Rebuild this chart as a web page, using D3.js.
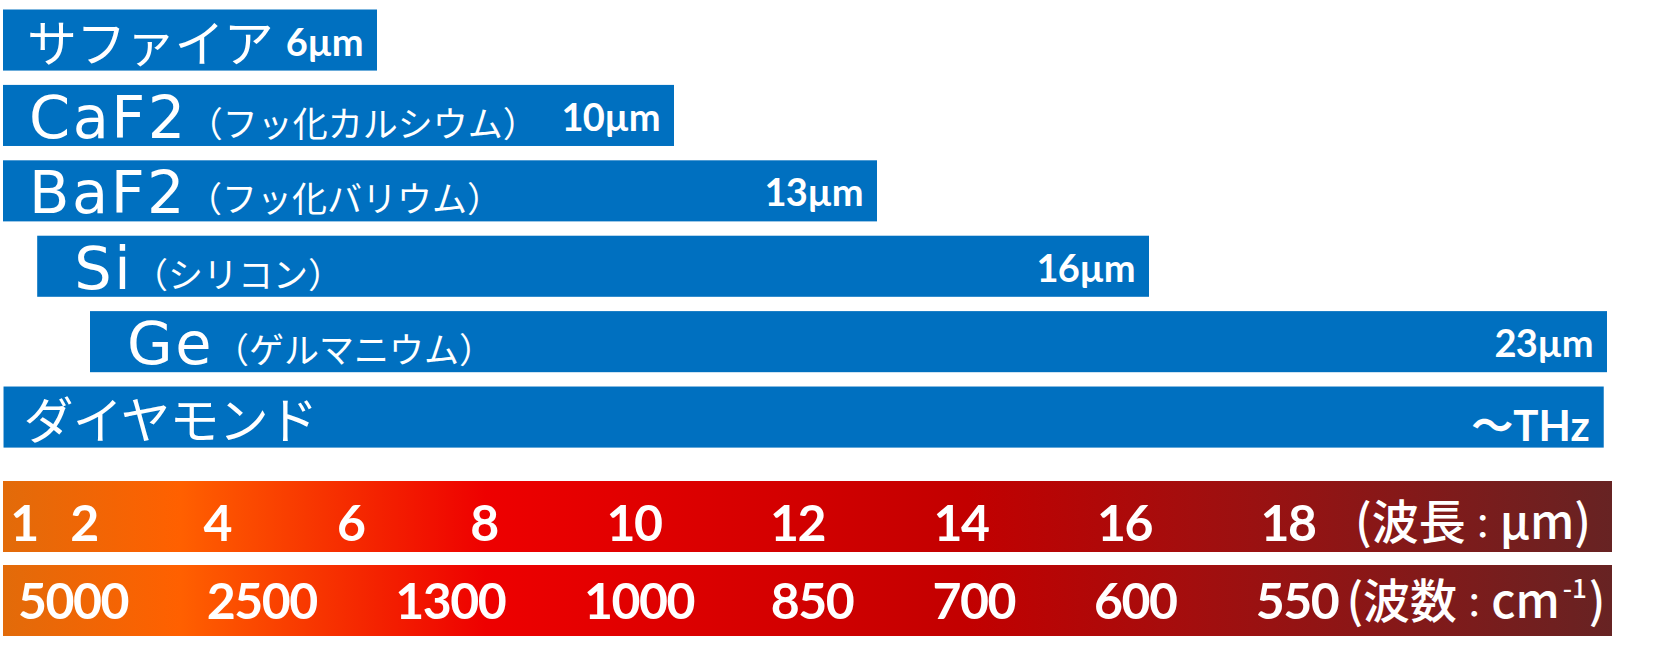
<!DOCTYPE html>
<html>
<head>
<meta charset="utf-8">
<script src="https://cdn.jsdelivr.net/npm/d3@7"></script>
<style>
  html, body { margin: 0; padding: 0; background: #ffffff; }
  svg { display: block; }
</style>
</head>
<body>
<svg id="chart" width="1654" height="648"></svg>
<script>
// ---------- data ----------
const materials      = ["サファイア", "CaF2", "BaF2", "Si", "Ge", "ダイヤモンド"];
const materialKana   = ["", "（フッ化カルシウム）", "（フッ化バリウム）", "（シリコン）", "（ゲルマニウム）", ""];
const rangeStart     = [0.15, 0.13, 0.15, 1.2, 2, 0.22];     // µm
const rangeEnd       = [6, 10, 13, 16, 23, 22.95];           // µm
const endLabels      = ["6µm", "10µm", "13µm", "16µm", "23µm", "～THz"];
const wavelengthTicks = [1, 2, 4, 6, 8, 10, 12, 14, 16, 18];
const wavenumberTicks = [5000, 2500, 1300, 1000, 850, 700, 600, 550];
const wavelengthUnit  = ["(波長", "：", "µm)"];
const wavenumberUnit  = ["(波数", "：", "cm", "-1", ")"];

// ---------- layout ----------
const svg = d3.select("#chart");
const BLUE = "#0070C0";
const LATIN = "'DejaVu Sans', 'Noto Sans', sans-serif";
const CJK = "'Noto Sans CJK JP', sans-serif";
const NUM = "Lato, 'Noto Sans CJK JP', sans-serif";
// label indent (px) from the start of each bar
const labelIndent = [24, 26, 26, 37, 37, 20];

// schematic (non-linear) wavelength scale used by the bars
const xBar = d3.scaleLinear()
  .domain([0.2, 1, 2, 6, 10, 13, 16, 23])
  .range([3, 24, 90, 377, 674, 877, 1149, 1607])
  .clamp(true);

const y = d3.scaleBand()
  .domain(materials)
  .range([9.5, 447.6])
  .paddingInner(0.19)
  .paddingOuter(0);

const rows = materials.map((m, i) => ({
  name: m, kana: materialKana[i], start: rangeStart[i], end: rangeEnd[i],
  label: endLabels[i], indent: labelIndent[i]
}));

const isLatin = s => /^[\x00-\x7F]+$/.test(s);
const mainSize = d => isLatin(d.name) ? 59 : 50;
const mainFamily = d => isLatin(d.name) ? LATIN : CJK;

// bars
const g = svg.append("g");
g.selectAll("rect.bar").data(rows).join("rect")
  .attr("class", "bar")
  .attr("x", d => xBar(d.start))
  .attr("y", d => y(d.name))
  .attr("width", d => xBar(d.end) - xBar(d.start))
  .attr("height", y.bandwidth())
  .attr("fill", BLUE);

// material labels
const lbl = g.selectAll("text.mat").data(rows).join("text")
  .attr("class", "mat")
  .attr("x", d => xBar(d.start) + d.indent)
  .attr("y", d => y(d.name) + (isLatin(d.name) ? 53 : 52))
  .attr("fill", "#fff");
lbl.append("tspan")
  .text(d => d.name)
  .attr("font-family", mainFamily)
  .attr("font-size", mainSize)
  .attr("letter-spacing", d => isLatin(d.name) ? 2.5 : -0.8);
lbl.filter(d => d.kana).append("tspan")
  .text(d => d.kana)
  .attr("font-family", CJK)
  .attr("font-size", 35)
  .attr("dy", -1);

// end-of-range labels
g.selectAll("text.end").data(rows).join("text")
  .attr("class", "end")
  .attr("x", d => xBar(d.end) - 14)
  .attr("y", d => y(d.name) + (d.label.endsWith("µm") ? 46 : 54))
  .attr("text-anchor", "end")
  .attr("font-family", NUM)
  .attr("font-weight", 700)
  .attr("font-size", d => d.label.endsWith("µm") ? 38 : 42)
  .attr("letter-spacing", d => d.label.endsWith("µm") ? -0.6 : 0)
  .attr("fill", "#fff")
  .text(d => d.label);

// ---------- spectrum bands ----------
const bandX0 = 3, bandX1 = 1612;
const defs = svg.append("defs");
const grad = defs.append("linearGradient")
  .attr("id", "spec").attr("gradientUnits", "userSpaceOnUse")
  .attr("x1", bandX0).attr("x2", bandX1).attr("y1", 0).attr("y2", 0);
[[0, "#E26B0A"], [0.11, "#FF6000"], [0.30, "#EE0000"], [0.48, "#D40000"],
 [0.60, "#C20000"], [0.74, "#A30E0E"], [1, "#672323"]]
  .forEach(([o, c]) => grad.append("stop").attr("offset", o).attr("stop-color", c));

const bands = [
  {key: "wl", y0: 481, y1: 552, base: 541},
  {key: "wn", y0: 565, y1: 636, base: 619}
];
svg.selectAll("rect.band").data(bands).join("rect")
  .attr("class", "band")
  .attr("x", bandX0).attr("y", d => d.y0)
  .attr("width", bandX1 - bandX0).attr("height", d => d.y1 - d.y0)
  .attr("fill", "url(#spec)");

// wavelength tick labels
const xWl = d3.scaleLinear().domain([1, 2, 8, 10, 18]).range([24, 84, 484, 634, 1288]);
svg.append("g").selectAll("text").data(wavelengthTicks).join("text")
  .attr("x", d => xWl(d))
  .attr("y", bands[0].base)
  .attr("text-anchor", "middle")
  .attr("font-family", NUM).attr("font-weight", 700).attr("font-size", 50)
  .attr("letter-spacing", -1.5)
  .attr("fill", "#fff")
  .text(d => d);

// wavenumber tick labels
const xWn = d3.scaleLinear().domain([0, 3, 4, 7]).range([73, 639, 812, 1297]);
svg.append("g").selectAll("text").data(wavenumberTicks).join("text")
  .attr("x", (d, i) => xWn(i))
  .attr("y", bands[1].base)
  .attr("text-anchor", "middle")
  .attr("font-family", NUM).attr("font-weight", 700).attr("font-size", 50)
  .attr("letter-spacing", -1.5)
  .attr("fill", "#fff")
  .text(d => d);

// unit labels
const wlu = svg.append("text")
  .attr("x", bandX1 - 139).attr("y", 539)
  .attr("text-anchor", "middle")
  .attr("font-family", CJK).attr("font-weight", 500).attr("font-size", 47)
  .attr("fill", "#fff");
wlu.append("tspan").text(wavelengthUnit[0]);
wlu.append("tspan").text(wavelengthUnit[1]).attr("font-size", 34);
wlu.append("tspan").text(wavelengthUnit[2]);

const wnu = svg.append("text")
  .attr("x", bandX1 - 136).attr("y", 618)
  .attr("text-anchor", "middle")
  .attr("font-family", CJK).attr("font-weight", 500).attr("font-size", 47)
  .attr("fill", "#fff");
wnu.append("tspan").text(wavenumberUnit[0]);
wnu.append("tspan").text(wavenumberUnit[1]).attr("font-size", 34);
wnu.append("tspan").text(wavenumberUnit[2]);
wnu.append("tspan").text(wavenumberUnit[3]).attr("font-size", 26).attr("dy", -20).attr("dx", 3);
wnu.append("tspan").text(wavenumberUnit[4]).attr("dy", 20).attr("dx", 2);
</script>
</body>
</html>
